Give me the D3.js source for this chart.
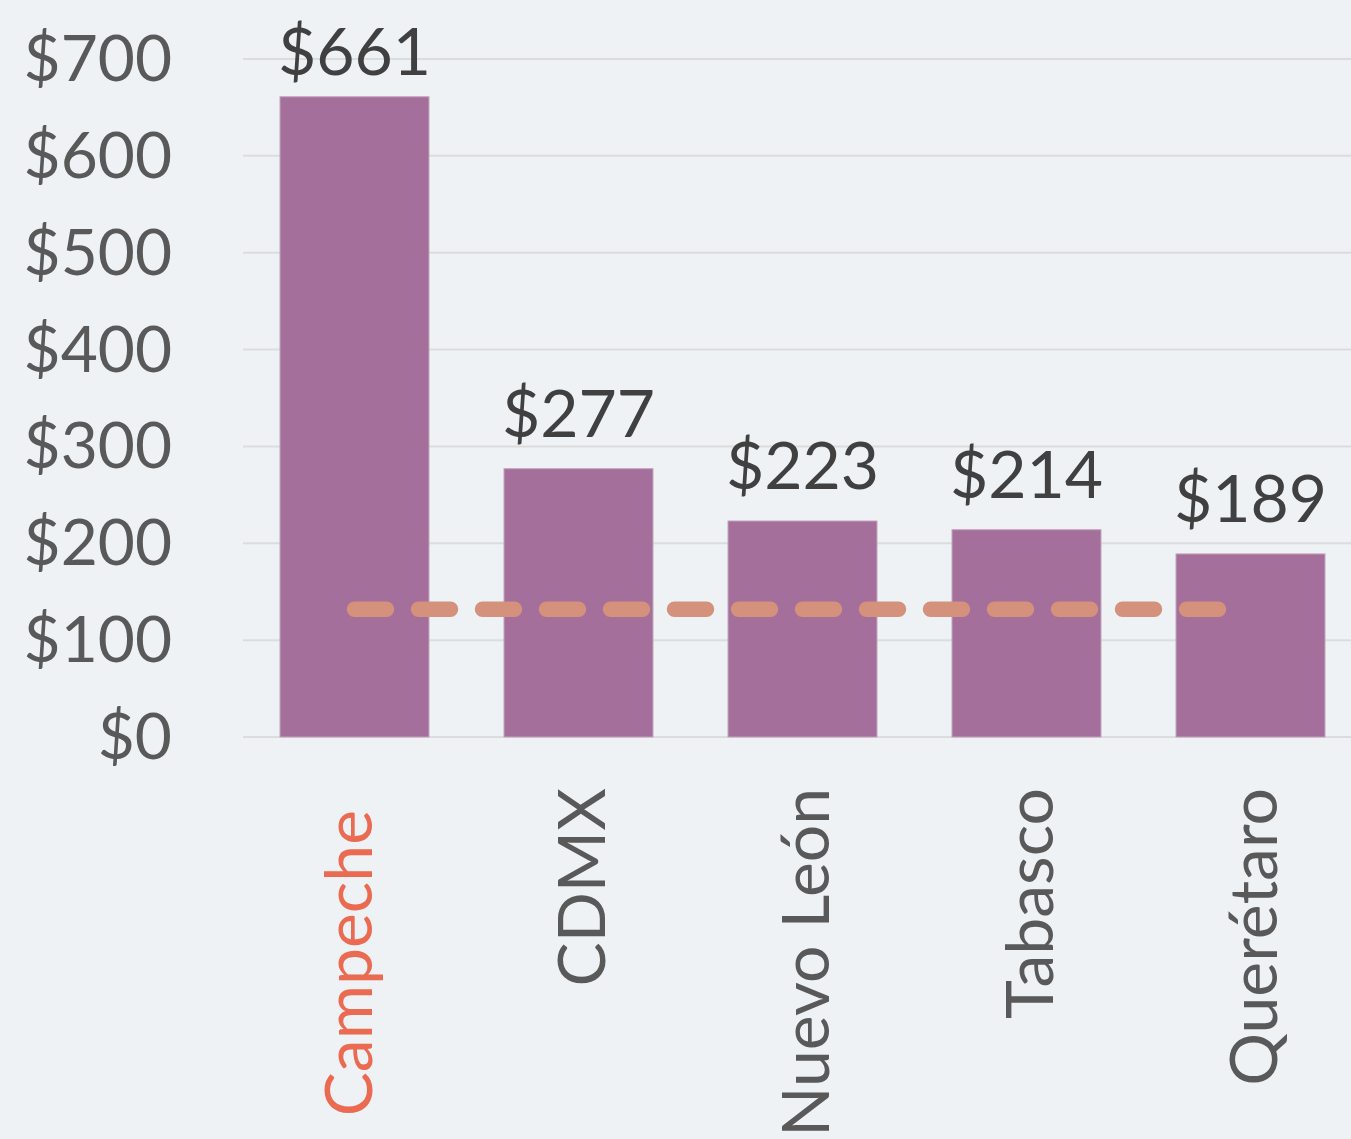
<!DOCTYPE html>
<html>
<head>
<meta charset="utf-8">
<script src="https://cdn.jsdelivr.net/npm/d3@7"></script>
<style>
  html, body { margin: 0; padding: 0; background: #eef2f5; }
  svg { display: block; }
</style>
</head>
<body>
<script>
// ---- data ----
const categories = ["Campeche", "CDMX", "Nuevo León", "Tabasco", "Querétaro"];
const values = [661, 277, 223, 214, 189];
const averageValue = 132;
const yTicks = [0, 100, 200, 300, 400, 500, 600, 700];
const highlighted = ["Campeche"];

// ---- layout ----
const W = 1351, H = 1139;
const font = "Lato, 'Open Sans', sans-serif";

const svg = d3.select("body").append("svg")
  .attr("width", W).attr("height", H);

svg.append("rect").attr("width", W).attr("height", H).attr("fill", "#eef2f5");

const y = d3.scaleLinear().domain([0, 700]).range([737, 59]);
const x = d3.scaleBand().domain(categories)
  .range([242.5, 1362.5]).paddingInner(0.335).paddingOuter(0.1675);

// gridlines
svg.append("g").selectAll("line").data(yTicks).join("line")
  .attr("x1", 243).attr("x2", W)
  .attr("y1", d => y(d)).attr("y2", d => y(d))
  .attr("stroke", "#dcdcdc").attr("stroke-width", 2);

// y axis labels
svg.append("g").selectAll("text").data(yTicks).join("text")
  .attr("x", 172).attr("y", d => y(d) + 22)
  .attr("text-anchor", "end")
  .attr("font-family", font).attr("font-size", 64)
  .attr("fill", "#595959")
  .text(d => "$" + d);

// bars
svg.append("g").selectAll("rect").data(categories).join("rect")
  .attr("x", d => x(d))
  .attr("y", (d, i) => y(values[i]))
  .attr("width", x.bandwidth())
  .attr("height", (d, i) => y(0) - y(values[i]))
  .attr("fill", "#a46f9b")
  .attr("stroke", "#c4a0bd").attr("stroke-width", 1);

// value labels
svg.append("g").selectAll("text").data(categories).join("text")
  .attr("x", d => x(d) + x.bandwidth() / 2)
  .attr("y", (d, i) => Math.max(y(values[i]) - 32, 75))
  .attr("text-anchor", "middle")
  .attr("font-family", font).attr("font-size", 66)
  .attr("fill", "#404040")
  .text((d, i) => "$" + values[i]);

// average dashed line
svg.append("line")
  .attr("x1", x(categories[0]) + x.bandwidth() / 2)
  .attr("x2", x(categories[categories.length - 1]) + x.bandwidth() / 2)
  .attr("y1", y(averageValue)).attr("y2", y(averageValue))
  .attr("stroke", "#d4917c").attr("stroke-width", 15.5)
  .attr("stroke-linecap", "round")
  .attr("stroke-dasharray", "32,32");

// x labels (rotated)
svg.append("g").selectAll("text").data(categories).join("text")
  .attr("transform", d => {
    const hl = highlighted.includes(d);
    const cx = x(d) + x.bandwidth() / 2 + (hl ? 17.5 : 26);
    const ty = hl ? 810 : 788;
    return `translate(${cx},${ty}) rotate(-90)`;
  })
  .attr("text-anchor", "end")
  .attr("font-family", font).attr("font-size", 66)
  .attr("fill", d => highlighted.includes(d) ? "#eb6b52" : "#595959")
  .text(d => d);
</script>
</body>
</html>
